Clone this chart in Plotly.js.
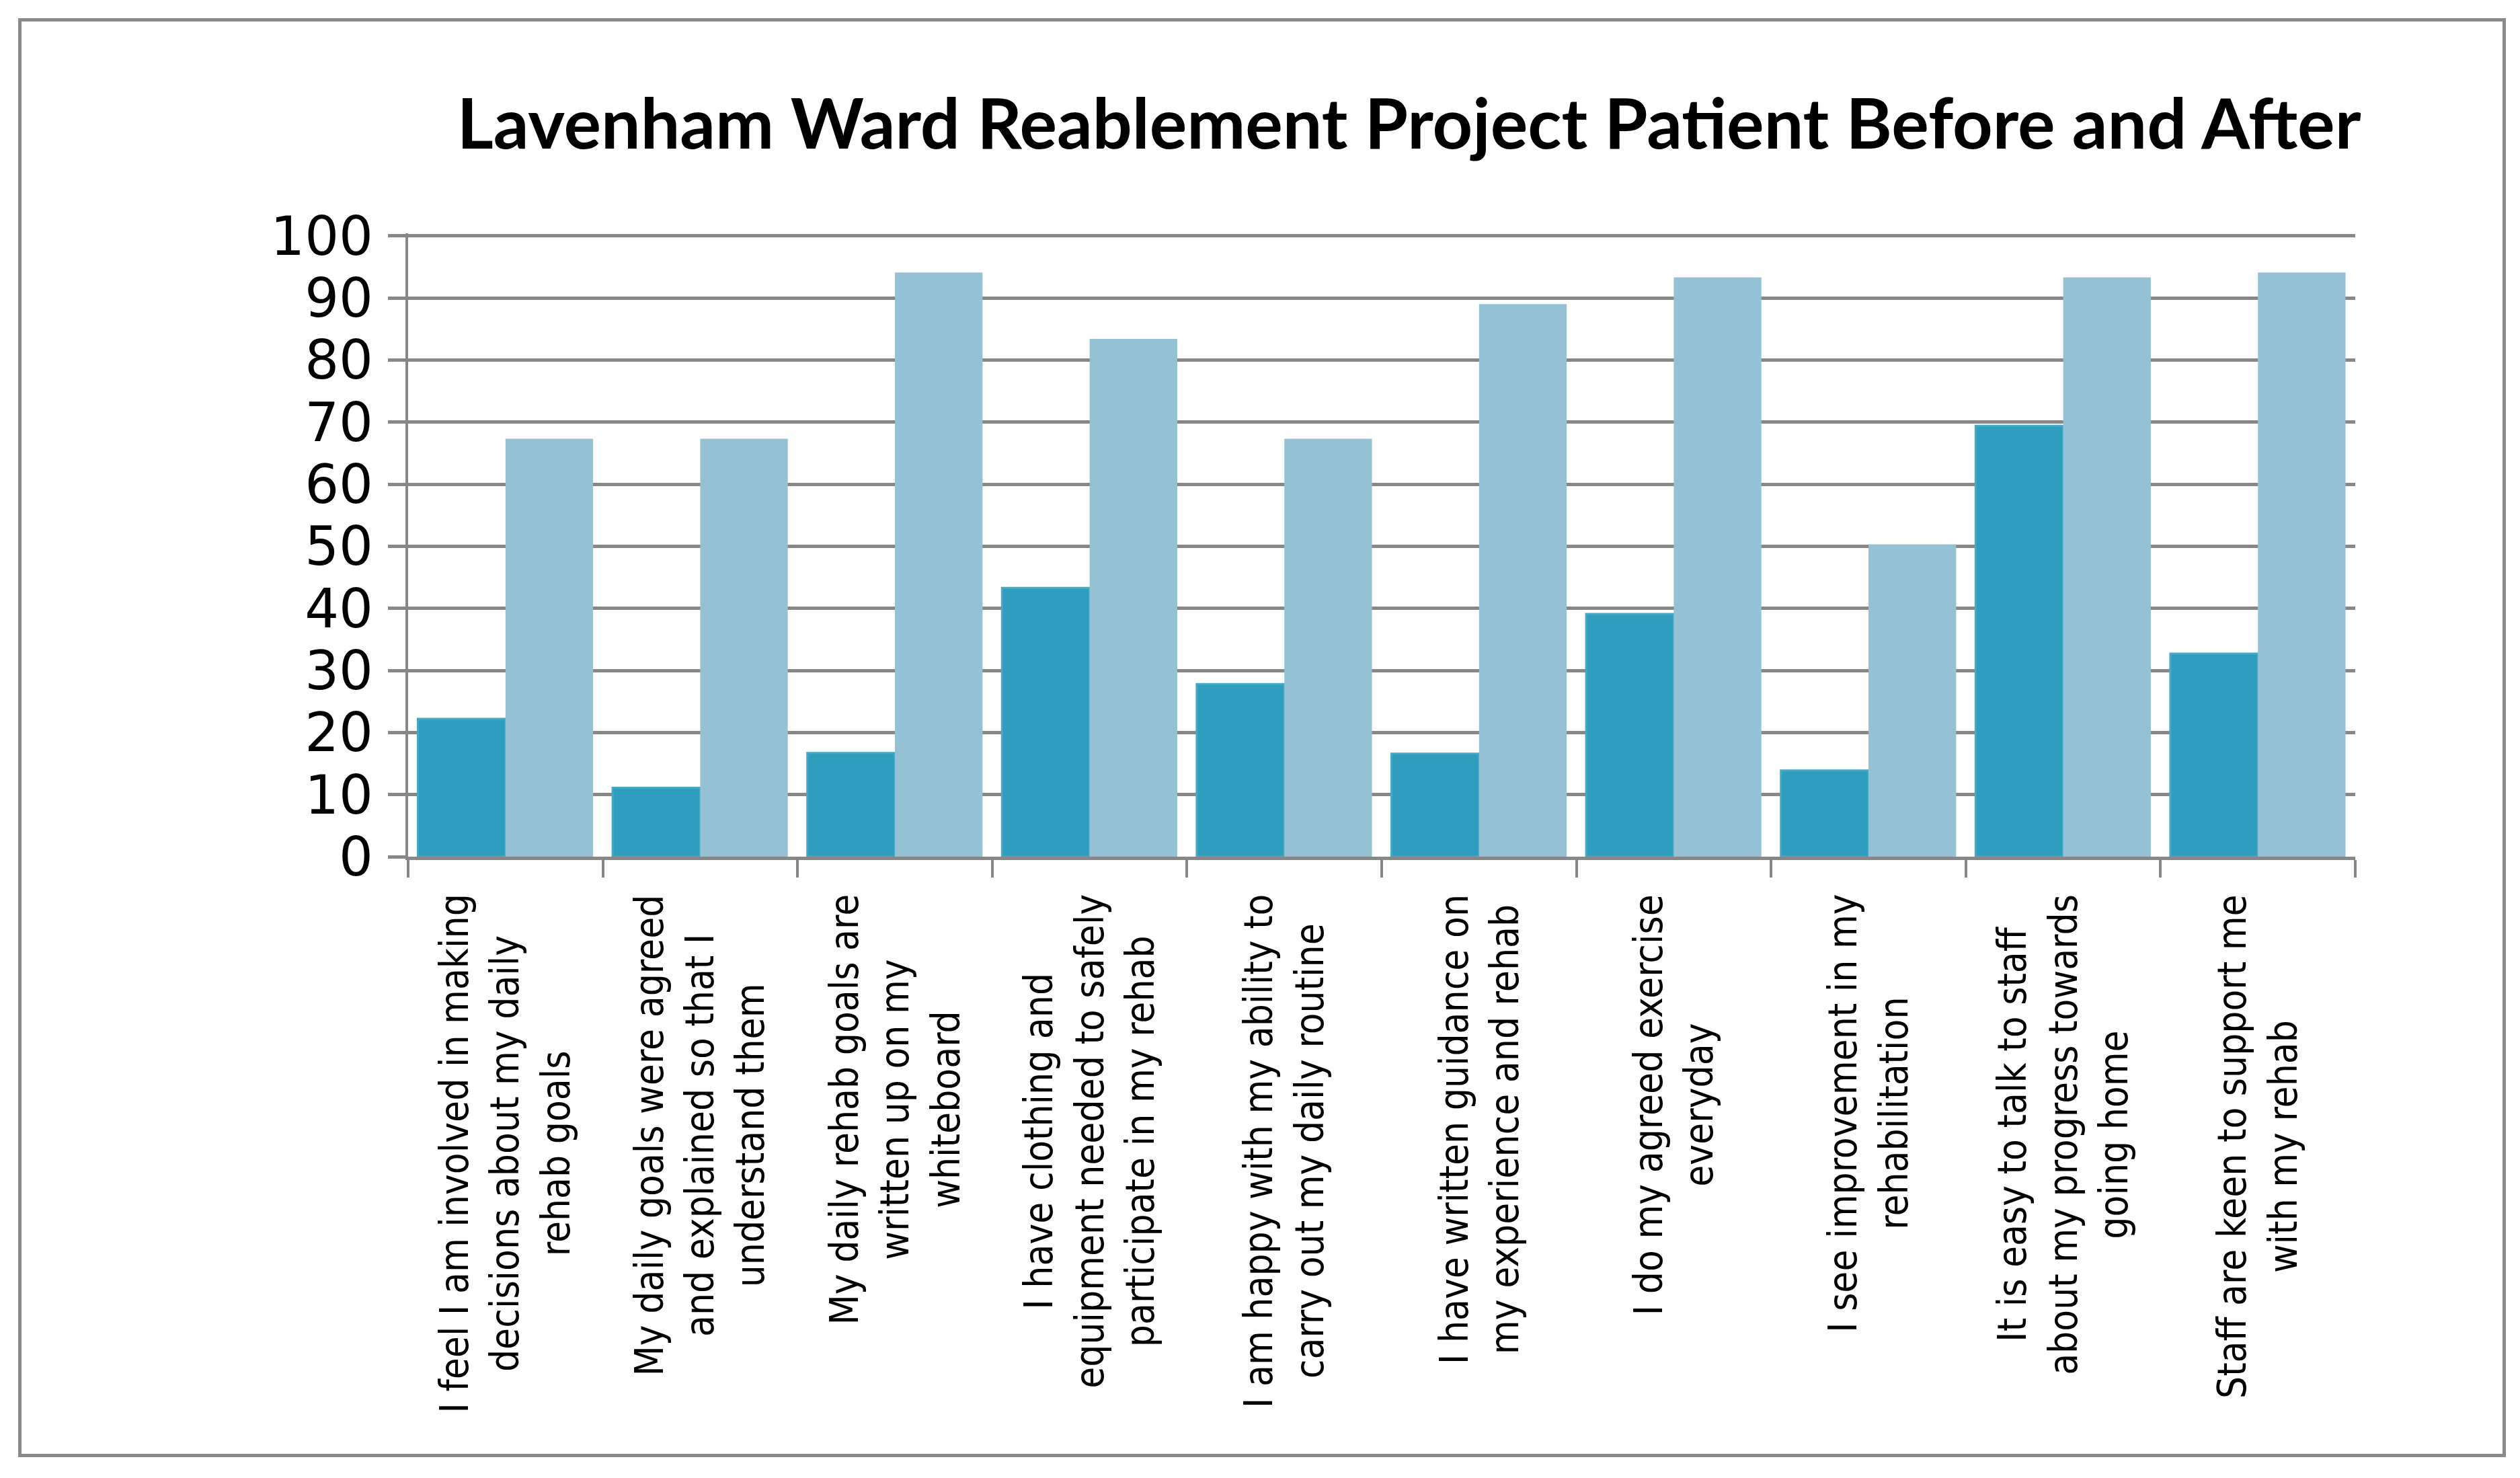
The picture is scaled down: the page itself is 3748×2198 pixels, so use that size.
<!DOCTYPE html>
<html>
<head>
<meta charset="utf-8">
<script src="https://cdn.plot.ly/plotly-3.0.1.min.js"></script>
<style>
  html, body { margin: 0; padding: 0; background: #ffffff; }
  #wrap { position: relative; width: 3748px; height: 2198px; }
  #chart { position: absolute; left: 0; top: 0; width: 3748px; height: 2198px; }
  #frame { position: absolute; left: 27px; top: 27px; width: 3690px; height: 2130px;
           border: 5px solid #8a8a8a; pointer-events: none; }
</style>
</head>
<body>
<div id="wrap">
  <div id="chart"></div>
  <div id="frame"></div>
</div>
<script>
// ---- data ----
const categories = [
  "I feel I am involved in making<br>decisions about my daily<br>rehab goals",
  "My daily goals were agreed<br>and explained so that I<br>understand them",
  "My daily rehab goals are<br>written up on my<br>whiteboard",
  "I have clothing and<br>equipment needed to safely<br>participate in my rehab",
  "I am happy with my ability to<br>carry out my daily routine",
  "I have written guidance on<br>my experience and rehab",
  "I do my agreed exercise<br>everyday",
  "I see improvement in my<br>rehabilitation",
  "It is easy to talk to staff<br>about my progress towards<br>going home",
  "Staff are keen to support me<br>with my rehab"
];
const beforeValues = [22.2, 11.1, 16.7, 43.3, 27.8, 16.6, 39.1, 13.9, 69.4, 32.7];
const afterValues  = [67.3, 67.3, 94.1, 83.4, 67.3, 89.0, 93.3, 50.3, 93.3, 94.1];
const yTickValues = [0, 10, 20, 30, 40, 50, 60, 70, 80, 90, 100];
const titleText = "Lavenham Ward Reablement Project Patient Before and After";

// ---- traces ----
const traces = [
  {
    type: "bar", name: "Before", x: categories, y: beforeValues,
    marker: { color: "#2f9dbd", line: { color: "#45a9c6", width: 3 } }
  },
  {
    type: "bar", name: "After", x: categories, y: afterValues,
    marker: { color: "#94c2d4", line: { width: 0 } }
  }
];

// category labels drawn as rotated, centre-aligned annotations on the x scale
const labelAnnotations = categories.map(c => ({
  text: c, x: c, xref: "x", y: -0.058, yref: "paper",
  textangle: -90, xanchor: "center", yanchor: "top", align: "center",
  showarrow: false,
  font: { family: "DejaVu Sans Condensed, DejaVu Sans, sans-serif", size: 58, color: "#000000" }
}));

const layout = {
  width: 3748, height: 2198,
  paper_bgcolor: "#ffffff", plot_bgcolor: "#ffffff",
  showlegend: false,
  barmode: "group", bargap: 0.1, bargroupgap: 0,
  margin: { l: 607, r: 245, t: 347, b: 924, pad: 0 },
  title: {
    text: titleText,
    x: 0.514, xref: "paper", xanchor: "center",
    y: 0.916, yref: "container", yanchor: "middle",
    font: { family: "Lato, sans-serif", size: 104, color: "#000000", weight: "bold" }
  },
  xaxis: {
    type: "category",
    showticklabels: false,
    showgrid: false,
    showline: true, linecolor: "#878787", linewidth: 5,
    ticks: "outside", tickson: "boundaries", ticklen: 26, tickwidth: 4, tickcolor: "#878787",
    zeroline: false
  },
  yaxis: {
    range: [0, 100.4],
    tickvals: yTickValues,
    ticktext: yTickValues.map(String),
    showgrid: true, gridcolor: "#878787", gridwidth: 5,
    showline: true, linecolor: "#878787", linewidth: 4,
    ticks: "outside", ticklen: 26, tickwidth: 5, tickcolor: "#878787",
    ticklabelstandoff: 6,
    zeroline: false,
    tickfont: { family: "DejaVu Sans, sans-serif", size: 80, color: "#000000" }
  },
  annotations: labelAnnotations
};

Plotly.newPlot("chart", traces, layout, { staticPlot: true, displayModeBar: false });
</script>
</body>
</html>
